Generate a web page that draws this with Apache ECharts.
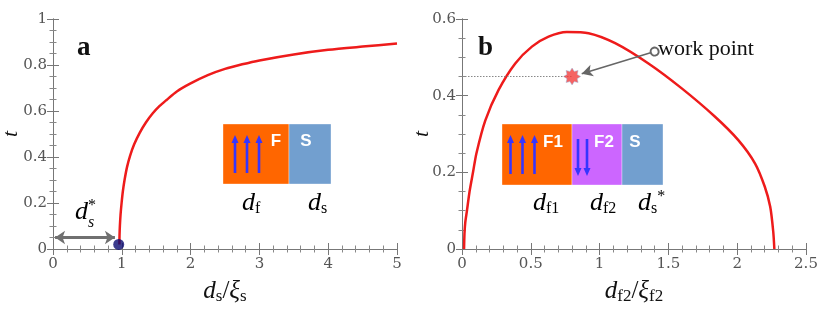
<!DOCTYPE html>
<html><head><meta charset="utf-8">
<script src="https://cdn.jsdelivr.net/npm/echarts@6/dist/echarts.min.js"></script>
<style>html,body{margin:0;padding:0;background:#fff}#c{width:830px;height:312px}</style>
</head><body><div id="c"></div>
<script>
// Panel a: t vs d_s/xi_s
const aX = [0.965, 0.967, 0.972, 0.982, 0.997, 1.015, 1.04, 1.075, 1.12, 1.18, 1.26, 1.35, 1.45, 1.55, 1.65, 1.8, 2.0, 2.25, 2.5, 2.75, 3.0, 3.5, 4.0, 4.5, 5.0];
const aT = [0.02, 0.06, 0.1, 0.15, 0.2, 0.25, 0.3, 0.355, 0.405, 0.455, 0.505, 0.55, 0.59, 0.622, 0.648, 0.685, 0.72, 0.756, 0.783, 0.803, 0.82, 0.846, 0.866, 0.88, 0.893];
const aDot = [0.955, 0.02];
const aArrow = [[0.03, 0.05], [0.9, 0.05]];
// Panel b: t vs d_f2/xi_f2
const bX = [0.015, 0.018, 0.024, 0.036, 0.055, 0.08, 0.105, 0.169, 0.266, 0.387, 0.508, 0.629, 0.762, 0.92, 1.113, 1.355, 1.597, 1.839, 2.008, 2.13, 2.2, 2.24, 2.262, 2.27];
const bT = [0, 0.04, 0.07, 0.1, 0.15, 0.2, 0.25, 0.335, 0.415, 0.484, 0.528, 0.554, 0.566, 0.563, 0.537, 0.484, 0.419, 0.345, 0.284, 0.223, 0.163, 0.11, 0.045, 0];
const workPoint = [0.8, 0.45];
const workArrow = [[1.40, 0.515], [0.87, 0.457]];
const aXTicks = [0, 1, 2, 3, 4, 5];
const aYTicks = [0, 0.2, 0.4, 0.6, 0.8, 1];
const bXTicks = [0, 0.5, 1, 1.5, 2, 2.5];
const bYTicks = [0, 0.2, 0.4, 0.6];

const ch = echarts.init(document.getElementById('c'), null, {renderer: 'canvas'});
const serif = '"Liberation Serif", serif';
const tickFont = {fontFamily: '"DejaVu Serif", serif', fontSize: 15, color: '#555'};
const axLine = {show: true, lineStyle: {color: '#777', width: 1}};
const tick = {show: true, inside: true, length: 6, lineStyle: {color: '#777'}};
function minor(n) { return {show: true, splitNumber: n, length: 3.5, lineStyle: {color: '#888'}}; }
function fmt(v) { return String(v); }

const nameRich = {
  d: {fontFamily: serif, fontStyle: 'italic', fontSize: 25, color: '#111', lineHeight: 28, verticalAlign: 'middle'},
  x: {fontFamily: serif, fontStyle: 'italic', fontSize: 25, color: '#111', lineHeight: 28, verticalAlign: 'middle'},
  sl: {fontFamily: serif, fontSize: 25, color: '#111', lineHeight: 28, verticalAlign: 'middle'},
  s: {fontFamily: serif, fontSize: 17, color: '#111', lineHeight: 10, verticalAlign: 'bottom'}
};

function xAx(idx, min, max, interval, ms, name) {
  return [{
    type: 'value', gridIndex: idx, min, max, interval, position: 'bottom',
    axisLine: axLine, axisTick: tick, minorTick: minor(ms), splitLine: {show: false},
    axisLabel: Object.assign({margin: 8, formatter: fmt}, tickFont),
    name, nameLocation: 'middle', nameGap: 28, nameMoveOverlap: false, nameTextStyle: {rich: nameRich}
  }, {
    type: 'value', gridIndex: idx, min, max, interval, position: 'top',
    axisLine: axLine, axisTick: tick, minorTick: minor(ms), splitLine: {show: false},
    axisLabel: {show: false}
  }];
}
function yAx(idx, min, max, interval, ms, gap) {
  return [{
    type: 'value', gridIndex: idx, min, max, interval, position: 'left',
    axisLine: axLine, axisTick: tick, minorTick: minor(ms), splitLine: {show: false},
    axisLabel: Object.assign({margin: 6, formatter: fmt}, tickFont),
    name: 't', nameLocation: 'middle', nameGap: gap, nameRotate: 90, nameMoveOverlap: false,
    nameTextStyle: {fontFamily: serif, fontStyle: 'italic', fontSize: 22, color: '#111'}
  }, {
    type: 'value', gridIndex: idx, min, max, interval, position: 'right',
    axisLine: axLine, axisTick: tick, minorTick: minor(ms), splitLine: {show: false},
    axisLabel: {show: false}
  }];
}

const xAxes = [].concat(
  xAx(0, aXTicks[0], aXTicks[aXTicks.length - 1], 1, 5, '{d|d}{s|s}{sl|/}{x|ξ}{s|s}'),
  xAx(1, bXTicks[0], bXTicks[bXTicks.length - 1], 0.5, 5, '{d|d}{s|f2}{sl|/}{x|ξ}{s|f2}')
);
const yAxes = [].concat(
  yAx(0, aYTicks[0], aYTicks[aYTicks.length - 1], 0.2, 4, 31),
  yAx(1, bYTicks[0], bYTicks[bYTicks.length - 1], 0.2, 4, 29)
);

const starPath = 'path://M0,-10 L2.5,-6 L7.07,-7.07 L6,-2.5 L10,0 L6,2.5 L7.07,7.07 L2.5,6 L0,10 L-2.5,6 L-7.07,7.07 L-6,2.5 L-10,0 L-6,-2.5 L-7.07,-7.07 L-2.5,-6 Z';

// graphic helpers for inset schematics
const G = [];
function rect(x, y, w, h, fill) { G.push({type: 'rect', shape: {x, y, width: w, height: h}, style: {fill, stroke: 'rgba(255,255,255,0.35)', lineWidth: 1}, z: 10}); }
function arrow(x, y1, y2) { // y1 tail, y2 tip
  const dir = y2 < y1 ? -1 : 1;
  G.push({type: 'line', shape: {x1: x, y1: y1, x2: x, y2: y2 - dir * 7}, style: {stroke: '#3535ff', lineWidth: 2.6}, z: 11});
  G.push({type: 'polygon', shape: {points: [[x - 3.5, y2 - dir * 8], [x + 3.5, y2 - dir * 8], [x, y2]]}, style: {fill: '#3535ff'}, z: 11});
}
function txt(x, y, text, style) { G.push({type: 'text', x, y, style: Object.assign({text}, style), z: 12}); }
const labelRich = {
  d: {fontFamily: serif, fontStyle: 'italic', fontSize: 26, color: '#111', lineHeight: 28, verticalAlign: 'middle'},
  s: {fontFamily: serif, fontSize: 16, color: '#111', lineHeight: 10, verticalAlign: 'bottom'},
  st: {fontFamily: serif, fontSize: 16, color: '#333', lineHeight: 12, verticalAlign: 'top'}
};
const white = {fontFamily: '"Liberation Sans", sans-serif', fontWeight: 'bold', fontSize: 17, fill: '#fff', align: 'center', verticalAlign: 'middle'};

// panel a inset
rect(223, 124, 66, 60, '#ff6600');
rect(289, 124, 42, 60, '#729fcf');
arrow(235, 173, 135); arrow(247, 173, 135); arrow(259, 173, 135);
txt(276, 141, 'F', white);
txt(306, 141, 'S', white);
txt(242, 203, '{d|d}{s|f}', {rich: labelRich, verticalAlign: 'middle'});
txt(308, 203, '{d|d}{s|s}', {rich: labelRich, verticalAlign: 'middle'});
txt(75, 212, '{d|d}{st|*}', {rich: labelRich, verticalAlign: 'middle'});
txt(88, 223, 's', {fontFamily: serif, fontStyle: 'italic', fontSize: 16, fill: '#111', verticalAlign: 'middle'});
txt(77, 48, 'a', {fontFamily: serif, fontWeight: 'bold', fontSize: 27, fill: '#111', verticalAlign: 'middle'});
// panel b inset
rect(502, 124, 70, 61, '#ff6600');
rect(572, 124, 50, 61, '#cc66ff');
rect(622, 124, 41, 61, '#729fcf');
arrow(510.5, 174, 135); arrow(522.5, 174, 135); arrow(534.5, 174, 135);
arrow(578, 139, 176); arrow(587, 139, 176);
txt(553, 142, 'F1', white);
txt(604, 142, 'F2', white);
txt(635, 142, 'S', white);
txt(533, 203, '{d|d}{s|f1}', {rich: labelRich, verticalAlign: 'middle'});
txt(590, 203, '{d|d}{s|f2}', {rich: labelRich, verticalAlign: 'middle'});
txt(638, 203, '{d|d}{s|s}{st|*}', {rich: labelRich, verticalAlign: 'middle'});
txt(478, 48, 'b', {fontFamily: serif, fontWeight: 'bold', fontSize: 27, fill: '#111', verticalAlign: 'middle'});
txt(658, 49, 'work point', {fontFamily: serif, fontSize: 22, fill: '#111', verticalAlign: 'middle'});

ch.setOption({
  animation: false,
  grid: [
    {left: 53, top: 19, width: 344, height: 230, outerBoundsMode: 'none', containLabel: false},
    {left: 462, top: 19, width: 344, height: 230, outerBoundsMode: 'none', containLabel: false}
  ],
  xAxis: xAxes,
  yAxis: yAxes,
  graphic: G,
  series: [
    {type: 'line', xAxisIndex: 0, yAxisIndex: 0, data: aX.map((x, i) => [x, aT[i]]), showSymbol: false,
     smooth: 0.25, lineStyle: {color: '#ee1b1b', width: 2.5}, z: 3},
    {type: 'scatter', xAxisIndex: 0, yAxisIndex: 0, data: [aDot], symbolSize: 11, itemStyle: {color: '#0b0b70'}, z: 5,
     markLine: {silent: true, symbol: ['arrow', 'arrow'], symbolSize: [10, 10], label: {show: false},
       lineStyle: {color: '#707070', width: 3, type: 'solid'}, data: [[{coord: aArrow[0]}, {coord: aArrow[1]}]]}},
    {type: 'line', xAxisIndex: 2, yAxisIndex: 2, data: bX.map((x, i) => [x, bT[i]]), showSymbol: false,
     smooth: 0.25, lineStyle: {color: '#ee1b1b', width: 2.5}, z: 3},
    {type: 'scatter', xAxisIndex: 2, yAxisIndex: 2, data: [workPoint], symbol: starPath, symbolSize: 17,
     itemStyle: {color: '#f23c3c', borderColor: '#9ab0d8', borderWidth: 0.6}, z: 6,
     markLine: {silent: true, label: {show: false}, data: [
       [{coord: [0, workPoint[1]], symbol: 'none', lineStyle: {color: '#888', width: 1, type: [1.5, 1.5]}},
        {coord: workPoint, symbol: 'none'}],
       [{coord: workArrow[0], symbol: 'emptyCircle', symbolSize: 8, lineStyle: {color: '#666', width: 1.5, type: 'solid'}},
        {coord: workArrow[1], symbol: 'arrow', symbolSize: [9, 11]}]
     ]}}
  ]
});
</script></body></html>
